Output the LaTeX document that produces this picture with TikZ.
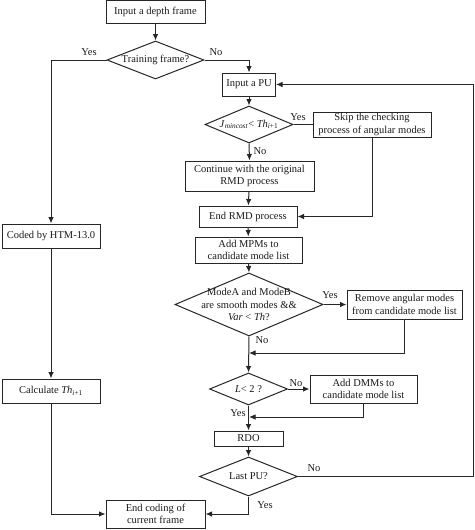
\documentclass[tikz,border=0pt]{standalone}
\usepackage{fontspec}
\setmainfont{Liberation Serif}
\usetikzlibrary{shapes.geometric,arrows.meta}
\definecolor{ln}{HTML}{262626}
\definecolor{tx}{HTML}{1A1A1A}
\tikzset{
  box/.style={draw=ln, line width=1pt, rectangle, inner sep=0pt, align=center, text=tx, font=\fontsize{10.5}{12.4}\selectfont},
  dia/.style={draw=ln, line width=1pt, shape=diamond, inner sep=0pt},
  dtxt/.style={align=center, text=tx, inner sep=0pt, font=\fontsize{10.5}{12.4}\selectfont},
  lbl/.style={text=tx, inner sep=0pt, font=\fontsize{10.5}{12.4}\selectfont},
  arr/.style={draw=ln, line width=1pt, -{Latex[length=6.5pt,width=5.5pt]}},
  ln/.style={draw=ln, line width=1pt}
}
\begin{document}
\begin{tikzpicture}[x=1pt,y=-1pt]
\useasboundingbox (0,0) rectangle (474,530);
% boxes
\node[box, minimum width=99, minimum height=22.5] (start) at (155.5,11.75) {Input a depth frame};
\node[box, minimum width=53, minimum height=23] (pu) at (249,84.5) {Input a PU};
\node[box, minimum width=118, minimum height=25] (skip) at (372,124.5) {Skip the checking\\process of angular modes};
\node[box, minimum width=129, minimum height=30] (cont) at (249.5,176) {Continue with the original\\RMD process};
\node[box, minimum width=98, minimum height=21] (rmdend) at (248,216.5) {End RMD process};
\node[box, minimum width=107, minimum height=26] (mpm) at (248.5,250) {Add MPMs to\\candidate mode list};
\node[box, minimum width=115, minimum height=29] (remove) at (404.5,304.5) {Remove angular modes\\from candidate mode list};
\node[box, minimum width=107, minimum height=28] (dmm) at (363.5,389) {Add DMMs to\\candidate mode list};
\node[box, minimum width=69, minimum height=15] (rdo) at (248.5,438.5) {RDO};
\node[box, minimum width=99, minimum height=28] (endc) at (155.5,514) {End coding of\\current frame};
\node[box, minimum width=98, minimum height=24] (coded) at (51,236) {Coded by HTM-13.0};
\node[box, minimum width=98, minimum height=24] (calc) at (51,391) {Calculate \textit{Th}\textsubscript{\textit{i}+1}};
% diamonds
\node[dia, minimum width=97, minimum height=38] (d1) at (155.5,60) {};
\node[dtxt] (d1t) at (d1) {Training frame?};
\node[dia, minimum width=88, minimum height=37] (dj) at (249,124.5) {};
\node[dtxt] (djt) at (dj) {\textit{J}\textsubscript{\textit{mincost}}< \textit{Th}\textsubscript{\textit{i}+1}};
\node[dia, minimum width=148, minimum height=63] (d3) at (249,304.5) {};
\node[dtxt] (d3t) at (d3) {ModeA and ModeB\\are smooth modes \&\&\\\textit{Var} < \textit{Th}?};
\node[dia, minimum width=78, minimum height=32] (d4) at (248.5,389) {};
\node[dtxt] (d4t) at (d4) {\textit{L}< 2 ?};
\node[dia, minimum width=98, minimum height=39] (d5) at (248.5,476.5) {};
\node[dtxt] (d5t) at (d5) {Last PU?};
% labels
\node[lbl] (y1) at (89,52) {Yes};
\node[lbl] (n1) at (216,52) {No};
\node[lbl] (y2) at (298,117) {Yes};
\node[lbl] (n2) at (260,151) {No};
\node[lbl] (y3) at (330,295) {Yes};
\node[lbl] (n3) at (262,340) {No};
\node[lbl] (n4) at (296,383) {No};
\node[lbl] (y4) at (238,413) {Yes};
\node[lbl] (n5) at (314,468) {No};
\node[lbl] (y5) at (265,505) {Yes};
% coordinates
\coordinate (m1) at (249,353);
\coordinate (m2) at (249,417);
\coordinate (r1) at (473,476.5);
\coordinate (r2) at (473,84.5);
% connectors
\draw[arr] (start) -- (d1.north);
\draw[arr] (d1.west) -| (coded.north);
\draw[arr] (d1.east) -| (pu.north);
\draw[arr] (pu) -- (dj.north);
\draw[ln] (dj.east) -- (skip.west);
\draw[arr] (skip.south) |- (rmdend.east);
\draw[arr] (dj.south) -- (cont.north);
\draw[arr] (cont) -- (rmdend);
\draw[arr] (rmdend) -- (mpm);
\draw[arr] (mpm.south) -- (d3.north);
\draw[arr] (d3.east) -- (remove.west);
\draw[arr] (d3.south) -- (d4.north);
\draw[arr] (remove.south) |- (m1);
\draw[arr] (d4.east) -- (dmm.west);
\draw[arr] (d4.south) -- (rdo.north);
\draw[arr] (dmm.south) |- (m2);
\draw[arr] (rdo) -- (d5.north);
\draw[arr] (d5.east) -- (r1) -- (r2) -- (pu.east);
\draw[arr] (d5.south) |- (endc.east);
\draw[arr] (coded) -- (calc);
\draw[arr] (calc.south) |- (endc.west);
\end{tikzpicture}
\end{document}
